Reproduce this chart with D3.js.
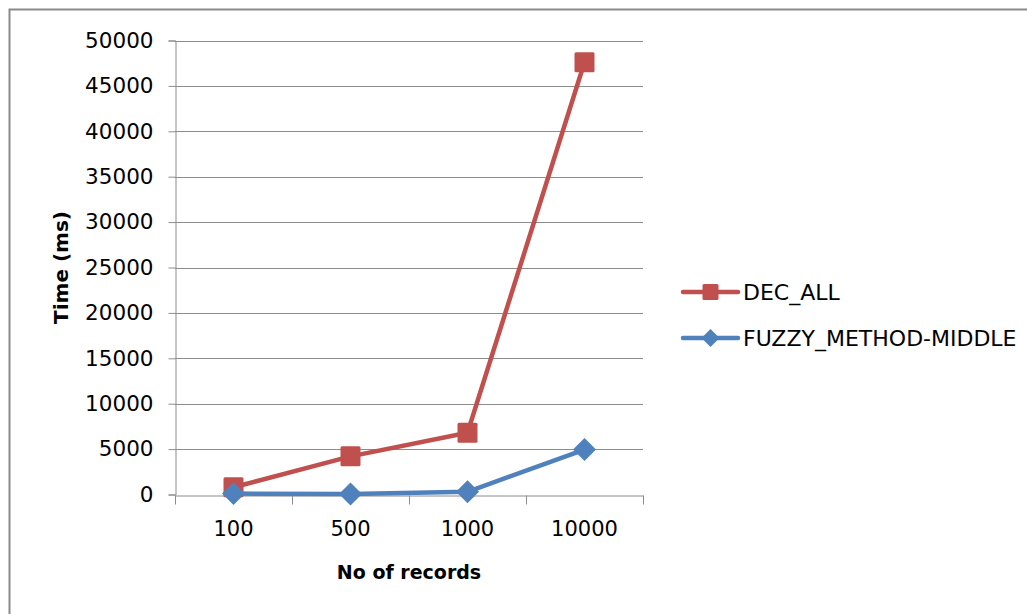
<!DOCTYPE html>
<html>
<head>
<meta charset="utf-8">
<script src="https://cdn.jsdelivr.net/npm/d3@7"></script>
<style>
  html, body { margin: 0; padding: 0; background: #fff; }
  svg { display: block; }
  text { font-family: "DejaVu Sans", sans-serif; fill: #000; }
</style>
</head>
<body>
<svg id="chart" width="1027" height="614"></svg>
<script>
// Record counts on the x axis
const categories = ["100", "500", "1000", "10000"];
// Execution time in milliseconds for each method
const decAll = [800, 4200, 6800, 47600];
const fuzzyMiddle = [100, 50, 300, 4950];
const seriesNames = ["DEC_ALL", "FUZZY_METHOD-MIDDLE"];
const yTicks = [0, 5000, 10000, 15000, 20000, 25000, 30000, 35000, 40000, 45000, 50000];

const svg = d3.select("#chart");
const W = 1027, H = 614;
const plot = { left: 175, right: 643, top: 40.5, bottom: 494.5 };
const colors = ["#C0504D", "#4F81BD"];
const gridColor = "#8c8c8c";

// Outer frame
svg.append("rect")
  .attr("x", 9.5).attr("y", 9.5)
  .attr("width", W + 20).attr("height", H + 20)
  .attr("fill", "none").attr("stroke", "#8a8a8a").attr("stroke-width", 2);

const x = d3.scaleBand().domain(categories).range([plot.left, plot.right]).padding(0);
const y = d3.scaleLinear().domain([0, 50000]).range([plot.bottom, plot.top]);

// Horizontal gridlines
svg.append("g").selectAll("line").data(yTicks.filter(t => t > 0)).join("line")
  .attr("x1", plot.left).attr("x2", plot.right)
  .attr("y1", d => Math.round(y(d)) + 0.5).attr("y2", d => Math.round(y(d)) + 0.5)
  .attr("stroke", gridColor).attr("stroke-width", 1);

// Y axis
const yAxis = svg.append("g")
  .attr("transform", `translate(${plot.left + 0.5},0)`)
  .call(d3.axisLeft(y).tickValues(yTicks).tickSize(7).tickPadding(15).tickFormat(d3.format("d")));
yAxis.select(".domain").attr("stroke", gridColor);
yAxis.selectAll(".tick line").attr("stroke", gridColor);
yAxis.selectAll(".tick text").style("font-size", "21.5px").style("font-family", "DejaVu Sans, sans-serif").attr("fill", "#000");

// X axis: labels centred in bands, ticks on band boundaries
const xAxis = svg.append("g")
  .attr("transform", `translate(0,${Math.round(plot.bottom) + 0.5})`)
  .call(d3.axisBottom(x).tickSize(0).tickPadding(26));
xAxis.select(".domain").attr("stroke", gridColor);
xAxis.selectAll(".tick text").style("font-size", "21px").style("font-family", "DejaVu Sans, sans-serif").attr("fill", "#000");
const bounds = categories.map(c => x(c)).concat([x(categories[categories.length - 1]) + x.bandwidth()]);
xAxis.append("g").selectAll("line").data(bounds).join("line")
  .attr("x1", d => Math.round(d) + 0.5).attr("x2", d => Math.round(d) + 0.5)
  .attr("y1", 0).attr("y2", 9)
  .attr("stroke", gridColor);

// Axis titles
svg.append("text")
  .attr("transform", `translate(68,${(plot.top + plot.bottom) / 2}) rotate(-90)`)
  .attr("text-anchor", "middle")
  .style("font-size", "20px").style("font-weight", "bold")
  .text("Time (ms)");
svg.append("text")
  .attr("x", (plot.left + plot.right) / 2).attr("y", 579)
  .attr("text-anchor", "middle")
  .style("font-size", "19px").style("font-weight", "bold")
  .text("No of records");

const cx = c => x(c) + x.bandwidth() / 2;
const line = d3.line().x((d, i) => cx(categories[i])).y(d => y(d));

function drawMarker(g, type, color, px, py, size) {
  if (type === "square") {
    g.append("rect")
      .attr("x", px - size / 2).attr("y", py - size / 2)
      .attr("width", size).attr("height", size)
      .attr("rx", 1.5)
      .attr("fill", color);
  } else {
    const h = size / 2;
    g.append("path")
      .attr("d", `M${px},${py - h}L${px + h},${py}L${px},${py + h}L${px - h},${py}Z`)
      .attr("fill", color);
  }
}

const series = [
  { name: seriesNames[0], values: decAll, color: colors[0], marker: "square", size: 20 },
  { name: seriesNames[1], values: fuzzyMiddle, color: colors[1], marker: "diamond", size: 23 }
];

series.forEach(s => {
  const g = svg.append("g");
  g.append("path")
    .attr("d", line(s.values))
    .attr("fill", "none")
    .attr("stroke", s.color)
    .attr("stroke-width", 4.5)
    .attr("stroke-linejoin", "round")
    .attr("stroke-linecap", "round");
  s.values.forEach((v, i) => drawMarker(g, s.marker, s.color, cx(categories[i]), y(v), s.size));
});

// Legend
const legendX = 683, legendY = [292, 338];
series.forEach((s, i) => {
  const g = svg.append("g");
  g.append("line")
    .attr("x1", legendX).attr("x2", legendX + 55)
    .attr("y1", legendY[i]).attr("y2", legendY[i])
    .attr("stroke", s.color).attr("stroke-width", 4.5).attr("stroke-linecap", "round");
  drawMarker(g, s.marker, s.color, legendX + 27.5, legendY[i], s.marker === "square" ? 16 : 18);
  g.append("text")
    .attr("x", legendX + 60).attr("y", legendY[i])
    .attr("dy", "0.36em")
    .style("font-size", "22px")
    .text(s.name);
});
</script>
</body>
</html>
